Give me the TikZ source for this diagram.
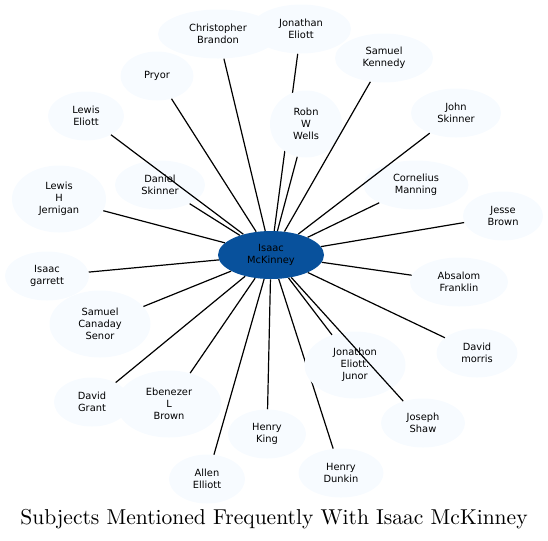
\documentclass[tikz,border=0pt]{standalone}
\usepackage{fontspec}
\usepackage{tikz}
\usetikzlibrary{shapes.geometric,backgrounds}
\newfontfamily\namefont{DejaVu Sans}
\newfontfamily\titlefont{lmroman10-regular.otf}
\definecolor{hub}{HTML}{08519C}
\definecolor{leaffill}{HTML}{F7FBFF}

\begin{document}
\begin{tikzpicture}[x=0.75pt,y=-0.75pt,
person/.style={ellipse,inner sep=0pt,align=center,font=\namefont\fontsize{7.4}{8.9}\selectfont},
leaf/.style={person,fill=leaffill},
two/.style={leaf,minimum height=49*0.75pt,minimum width=#1*0.75pt},
three/.style={leaf,minimum height=67*0.75pt,minimum width=#1*0.75pt},
link/.style={draw=black,line width=0.9pt}]
\useasboundingbox (0,0) rectangle (548,540);
\node[person,fill=hub,minimum width=106*0.75pt,minimum height=48*0.75pt] (mckinney) at (271,255) {Isaac\\McKinney};
% outer ring, clockwise from the top
\node[two=120] (christopher) at (218,34) {Christopher\\Brandon};
\node[two=100] (jonathan) at (301,29) {Jonathan\\Eliott};
\node[two=98] (kennedy) at (384,58) {Samuel\\Kennedy};
\node[two=90] (jskinner) at (456,113) {John\\Skinner};
\node[two=80] (jbrown) at (503,216) {Jesse\\Brown};
\node[two=98] (franklin) at (459,282) {Absalom\\Franklin};
\node[two=81] (morris) at (477,353) {David\\morris};
\node[two=84] (shaw) at (423,423) {Joseph\\Shaw};
\node[two=85] (dunkin) at (341,473) {Henry\\Dunkin};
\node[two=78] (king) at (267,434) {Henry\\King};
\node[two=76] (allen) at (207,479) {Allen\\Elliott};
\node[two=76] (grant) at (92,402) {David\\Grant};
\node[three=105] (ebenezer) at (169,404) {Ebenezer\\L\\Brown};
\node[three=101] (canaday) at (100,324) {Samuel\\Canaday\\Senor};
\node[two=84] (garrett) at (47,276) {Isaac\\garrett};
\node[three=94] (jernigan) at (59,199) {Lewis\\H\\Jernigan};
\node[two=76] (lewis) at (86,116) {Lewis\\Eliott};
\node[two=73] (pryor) at (157,76) {Pryor};
% inner ring
\node[three=72] (wells) at (306,124) {Robn\\W\\Wells};
\node[two=90] (dskinner) at (160,185) {Daniel\\Skinner};
\node[two=105] (manning) at (416,185) {Cornelius\\Manning};
\node[three=101] (junor) at (355,365) {Jonathon\\Eliott.\\Junor};
% spokes
\foreach \n in {christopher,pryor,kennedy,wells,lewis,jskinner,dskinner,manning,
  jernigan,jbrown,garrett,franklin,canaday,morris,junor,grant,ebenezer,shaw,king,allen}
  \draw[link] (mckinney)--(\n);
\begin{pgfonlayer}{background}
\foreach \n in {jonathan,dunkin}
  \draw[link] (mckinney)--(\n);
\end{pgfonlayer}
\node[font=\titlefont\fontsize{16.15}{19}\selectfont] (title) at (274,519) {Subjects Mentioned Frequently With Isaac McKinney};
\end{tikzpicture}
\end{document}
